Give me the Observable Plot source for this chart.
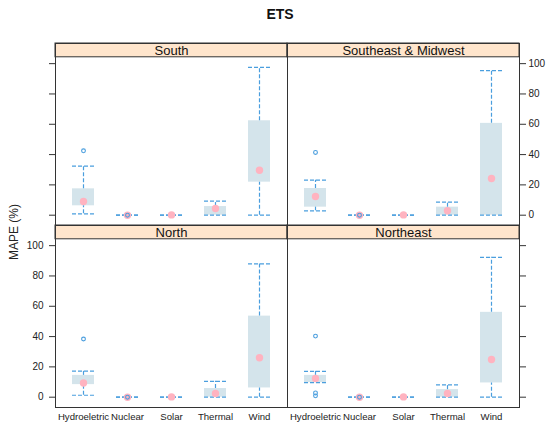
<!DOCTYPE html>
<html>
<head>
<meta charset="utf-8">
<script src="https://cdn.jsdelivr.net/npm/d3@7"></script>
<script src="https://cdn.jsdelivr.net/npm/@observablehq/plot@0.6"></script>
<style>
  body { margin: 0; background: #fff; font-family: "Liberation Sans", Arial, sans-serif; }
  #wrap { position: relative; width: 550px; height: 432px; }
  #title { height: 30px; width: 550px; text-align: center; font-weight: bold; font-size: 14px; line-height: 28px; padding-left: 10px; box-sizing: border-box; color: #111; }
  #ylab { position: absolute; left: 14px; top: 232px; transform: translate(-50%, -50%) rotate(-90deg); font-size: 12px; white-space: nowrap; color: #222; }
</style>
</head>
<body>
<div id="wrap">
  <div id="title">ETS</div>
  <div id="ylab">MAPE (%)</div>
  <div id="chart"></div>
</div>
<script>
const categories = ["Hydroeletric", "Nuclear", "Solar", "Thermal", "Wind"];
const regions = ["South", "Southeast & Midwest", "North", "Northeast"];
const yTicks = [0, 20, 40, 60, 80, 100];

// per region (same order as regions), per category (same order as categories)
const lowerWhisker = [
  [0.9, 0, 0, 0, 0],
  [2.9, 0, 0, 0, 0],
  [1.3, 0, 0, 0, 0],
  [9.6, 0, 0, 0, 0]
];
const q1 = [
  [6.2, 0, 0, 0, 21.8],
  [5.3, 0, 0, 0, 0],
  [8.3, 0, 0, 0, 6.1],
  [9.6, 0, 0, 0, 9.4]
];
const median = [
  [9.0, 0, 0.2, 4.4, 29.7],
  [12.3, 0, 0.2, 2.9, 24.2],
  [9.4, 0, 0.2, 2.4, 26.0],
  [12.3, 0, 0.2, 2.4, 24.9]
];
const q3 = [
  [17.4, 0, 0, 5.7, 62.3],
  [17.6, 0, 0, 5.3, 60.6],
  [14.4, 0, 0, 5.7, 53.5],
  [14.4, 0, 0, 5.0, 56.0]
];
const upperWhisker = [
  [32.4, 0, 0, 9.3, 97.5],
  [23.1, 0, 0, 8.6, 95.4],
  [17.2, 0, 0, 10.5, 88.0],
  [17.1, 0, 0, 8.1, 92.3]
];
const outlierRegion = ["South", "South", "Southeast & Midwest", "Southeast & Midwest", "North", "North", "Northeast", "Northeast", "Northeast", "Northeast"];
const outlierCategory = ["Hydroeletric", "Nuclear", "Hydroeletric", "Nuclear", "Hydroeletric", "Nuclear", "Hydroeletric", "Hydroeletric", "Hydroeletric", "Nuclear"];
const outlierValue = [42.5, 0, 41.4, 0, 38.4, 0, 40.3, 2.8, 0.9, 0];

// layout of panels (lattice 2x2)
const panelCol = ["L", "R", "L", "R"];
const panelRow = ["T", "T", "B", "B"];
const Y_DOMAIN = [-6.8, 113.3];
const STRIP_BASE = 104.2;

const panels = regions.map((r, i) => ({region: r, fx: panelCol[i], fy: panelRow[i]}));
const stats = [];
regions.forEach((r, i) => categories.forEach((c, j) => stats.push({
  region: r, cat: c, fx: panelCol[i], fy: panelRow[i],
  lw: lowerWhisker[i][j], q1: q1[i][j], med: median[i][j], q3: q3[i][j], uw: upperWhisker[i][j]
})));
const outliers = outlierValue.map((v, k) => {
  const i = regions.indexOf(outlierRegion[k]);
  return {cat: outlierCategory[k], value: v, fx: panelCol[i], fy: panelRow[i]};
});

const blue = "#4a9ede";
const dash = "4,2";

const chart = Plot.plot({
  width: 550,
  height: 402,
  marginTop: 12,
  marginBottom: 25,
  marginLeft: 55,
  marginRight: 31,
  style: {fontFamily: "'Liberation Sans', Arial, sans-serif", fontSize: "10px", color: "#222"},
  x: {type: "band", domain: categories, paddingInner: 0.5, paddingOuter: 0.35},
  y: {domain: Y_DOMAIN},
  fx: {domain: ["L", "R"], padding: 0, axis: null},
  fy: {domain: ["T", "B"], padding: 0, axis: null},
  marks: [
    // strips
    Plot.rect(panels, {fx: "fx", fy: "fy", y1: STRIP_BASE, y2: Y_DOMAIN[1], fill: "#ffe5cc", stroke: "#333", strokeWidth: 1}),
    Plot.text(panels, {fx: "fx", fy: "fy", text: "region", y: (STRIP_BASE + Y_DOMAIN[1]) / 2, frameAnchor: "middle", fontSize: 13, fill: "#111"}),
    // boxes
    Plot.barY(stats.filter(d => d.q3 > d.q1), {fx: "fx", fy: "fy", x: "cat", y1: "q1", y2: "q3", fill: "#d4e4eb"}),
    // whiskers
    Plot.ruleX(stats.filter(d => d.uw > d.q3), {fx: "fx", fy: "fy", x: "cat", y1: "q3", y2: "uw", stroke: blue, strokeWidth: 1.2, strokeDasharray: dash}),
    Plot.ruleX(stats.filter(d => d.q1 > d.lw), {fx: "fx", fy: "fy", x: "cat", y1: "lw", y2: "q1", stroke: blue, strokeWidth: 1.2, strokeDasharray: dash}),
    Plot.tickY(stats, {fx: "fx", fy: "fy", x: "cat", y: "uw", stroke: blue, strokeWidth: 1.2, strokeDasharray: dash}),
    Plot.tickY(stats, {fx: "fx", fy: "fy", x: "cat", y: "lw", stroke: blue, strokeWidth: 1.2, strokeDasharray: dash}),
    // medians
    Plot.dot(stats, {fx: "fx", fy: "fy", x: "cat", y: "med", r: 3.7, fill: "#ffb3c0", stroke: "none"}),
    // outliers
    Plot.dot(outliers, {fx: "fx", fy: "fy", x: "cat", y: "value", r: 1.9, fill: "none", stroke: blue, strokeWidth: 1.1}),
    // panel frames
    Plot.frame({stroke: "#333", strokeWidth: 1}),
    // y axes (lattice alternating)
    Plot.axisY(yTicks, {anchor: "left", facetAnchor: "top-left", tickSize: 6, fill: "none", label: null, stroke: "#333"}),
    Plot.axisY(yTicks, {anchor: "left", facetAnchor: "bottom-left", tickSize: 6, tickPadding: 6, label: null, stroke: "#333", fill: "#222"}),
    Plot.axisY(yTicks, {anchor: "right", facetAnchor: "top-right", tickSize: 6, tickPadding: 3, label: null, stroke: "#333", fill: "#222"}),
    Plot.axisY(yTicks, {anchor: "right", facetAnchor: "bottom-right", tickSize: 6, fill: "none", label: null, stroke: "#333"}),
    // x axis
    Plot.axisX({anchor: "bottom", facetAnchor: "bottom", tickSize: 0, tickPadding: 6, label: null, fill: "#222", fontSize: 9.6})
  ]
});
document.getElementById("chart").appendChild(chart);
</script>
</body>
</html>
